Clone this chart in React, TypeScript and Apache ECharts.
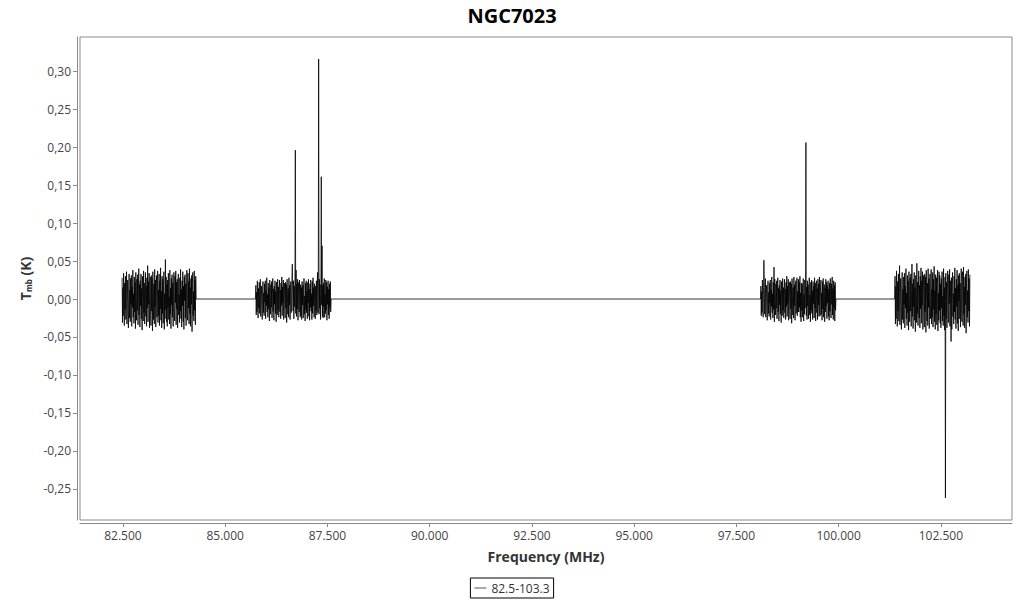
import React, { useEffect, useRef } from "react";
import * as echarts from "echarts";

// Spectrum blocks: [start MHz, end MHz] and channel values in mK
const blockRanges: [number, number][] = [
  [82480, 84280],
  [85750, 87580],
  [98100, 99925],
  [101380, 103210],
];

const block1mK = [
  28, -31, 15, -22, 34, -8, -35, 21, -14, 30, -27, 9, 36, -33, 4, 25, -19, -38, 18, 33,
  -25, 12, -30, 27, -6, 31, -36, 16, -11, 38, -24, 7, -32, 29, -17, 22, -39, 35, -3, -28,
  26, -15, 32, -34, 11, 40, -21, 19, -37, 24, -9, 33, -26, 14, -41, 30, 2, -29, 37, -18,
  21, -33, 8, 35, -23, 17, -36, 28, -12, 44, -30, 23, -7, 34, -38, 13, 29, -20, -35, 31,
  -16, 27, -42, 36, 5, -27, 20, -33, 39, -10, 25, -37, 16, 31, -24, -4, 37, -31, 12, -22,
  33, -35, 24, -13, 41, -28, 10, -38, 30, -19, 26, -32, 18, 36, -40, 7, -26, 52, -14, 29,
  -30, 19, -36, 25, -11, 34, -27, 3, -33, 38, -20, 14, -39, 27, -8, 32, -24, 21, -36, 11,
  35, -17, -29, 30, -5, 37, -34, 22, -13, 26, -38, 18, 33, -21, 6, -31, 28, -16, 39, -26,
  13, -37, 24, -9, 36, -30, 17, -40, 29, -2, 32, -25, 20, -35, 9, 38, -18, -28, 34, -12,
  23, -33, 40, -19, 15, -36, 27, -7, 31, -43, 19, 35, -22, 10, -29, 37, -15, 25, -34, 30,
];

const block2mK = [
  18, -21, 9, -17, 24, -6, -25, 14, -12, 22, -19, 5, 26, -23, 3, 17, -15, -27, 12, 23,
  -18, 8, -22, 20, -4, 24, -26, 11, -9, 28, -17, 6, -24, 21, -13, 15, -29, 25, -2, -20,
  19, -11, 23, -25, 7, 27, -16, 13, -28, 17, -7, 24, -19, 10, -30, 22, 1, -21, 26, -14,
  16, -24, 6, 25, -17, 12, -26, 21, -9, 29, -22, 16, -5, 25, -27, 9, 21, -15, -25, 22,
  -12, 19, -31, 26, 4, -20, 14, -24, 28, -8, 18, -27, 11, 23, -18, -3, 27, 46, 9, -16,
  24, -26, 17, -10, 28, 196, -19, 38, -23, 20, -13, 26, -28, 8, 22, -17, 25, -6, -24, 19,
  -21, 15, -27, 23, -8, 18, -25, 12, 27, -20, 4, -29, 21, -14, 24, -18, 10, -26, 22, -5,
  26, -23, 13, -28, 20, -11, 25, -16, 7, -27, 23, -19, 28, -9, 15, -24, 20, -3, -26, 17,
  -15, 24, -21, 10, 35, -18, 12, 316, -20, 26, -12, 19, -27, 14, 161, -8, 70, -23, 18, -25,
  21, -10, 27, -24, 6, -19, 25, -14, 22, -28, 16, -7, 24, -21, 13, -26, 20, -11, 23, -17,
];

const block3mK = [
  17, -22, 10, -18, 25, -6, -24, 15, 51, 23, -20, 6, 27, -24, 4, 18, -16, -28, 13, 24,
  -19, 9, -23, 21, -5, 25, -27, 12, -10, 29, -18, 7, -25, 22, -14, 42, -30, 26, -3, -21,
  20, -12, 24, -26, 8, 28, -17, 14, -29, 18, -8, 25, -20, 11, -31, 23, 2, -22, 27, -15,
  15, -25, 7, 26, -18, 13, -27, 22, -10, 30, -23, 17, -6, 26, -28, 10, 22, -16, -26, 23,
  -13, 20, -32, 27, 5, -21, 15, -25, 29, -9, 19, -28, 12, 24, -19, -4, 28, -22, 10, -17,
  26, -17, 22, -11, 30, -24, 8, -30, 21, -15, 20, -24, 14, 27, -29, 6, -20, 25, -12, 18,
  206, -22, 16, -27, 24, -9, 19, -26, 13, 28, -21, 5, -30, 22, -15, 25, -19, 11, -27, 23,
  -6, 17, -25, 28, -12, 21, -29, 9, 24, -18, 14, -27, 26, -8, 20, -23, 29, -14, -22, 16,
  25, -20, 8, -28, 23, -13, 27, -24, 11, 19, -30, 15, -17, 26, -9, 22, -26, 18, -5, 24,
  -23, 13, -28, 21, -16, 27, -11, -25, 20, -7, 29, -21, 14, -27, 24, -12, 18, -29, 22, -15,
];

const block4mK = [
  30, -33, 17, -26, 37, -9, -36, 23, -16, 33, -29, 10, 44, -34, 5, 27, -21, -40, 19, 35,
  -27, 13, -32, 29, -7, 34, -38, 17, -12, 40, -26, 8, -35, 31, -18, 24, -41, 36, -4, -30,
  28, -16, 33, -36, 12, 46, -23, 20, -39, 26, -10, 35, -28, 15, -43, 31, 3, -31, 47, -19,
  22, -35, 9, 37, -25, 18, -38, 30, -13, 41, -32, 24, -8, 36, -40, 14, 31, -22, -37, 33,
  -17, 29, -44, 38, 6, -29, 21, -35, 40, -11, 27, -39, 17, 33, -26, -5, 39, -33, 13, -24,
  35, -37, 26, -14, 43, -30, 11, -40, 32, -20, 28, -34, 19, 38, -42, 8, -28, 36, -15, 31,
  -32, 20, -38, 27, -12, 36, -29, 4, -35, 40, -22, 15, -41, 29, -262, 34, -26, 22, -38, 12,
  37, -18, -31, 32, -6, 39, -36, 24, -14, -56, 28, -40, 19, 35, -23, 7, -33, 30, -17, 41,
  -27, 14, -39, 26, -10, 38, -32, 18, -42, 31, -3, 34, -26, 21, -37, 10, 40, -19, -30, 36,
  24, -35, 42, -20, 16, -38, 29, -8, 33, -45, 20, 37, -24, 11, -31, 39, -16, 27, -36, 32,
];

const blocksmK = [block1mK, block2mK, block3mK, block4mK];

// zero-filled gaps between observed blocks (MHz)
const gapEdges: [number, number][] = [
  [84290, 85740],
  [87590, 98090],
  [99935, 101370],
];

const xTicks = [82500, 85000, 87500, 90000, 92500, 95000, 97500, 100000, 102500];
const yTicks = [-0.25, -0.2, -0.15, -0.1, -0.05, 0, 0.05, 0.1, 0.15, 0.2, 0.25, 0.3];
const seriesName = "82.5-103.3";

function buildData(): [number, number][] {
  const out: [number, number][] = [];
  blocksmK.forEach((vals, b) => {
    const [s, e] = blockRanges[b];
    const step = (e - s) / (vals.length - 1);
    vals.forEach((v, i) => out.push([s + i * step, v / 1000]));
    if (b < gapEdges.length) {
      out.push([gapEdges[b][0], 0]);
      out.push([gapEdges[b][1], 0]);
    }
  });
  return out;
}

const FONT = "'Open Sans', 'Noto Sans', sans-serif";

export default function App() {
  const ref = useRef<HTMLDivElement>(null);
  useEffect(() => {
    if (!ref.current) return;
    const chart = echarts.init(ref.current, undefined, { renderer: "svg" });
    chart.setOption({
      animation: false,
      backgroundColor: "#fff",
      textStyle: { fontFamily: FONT },
      title: {
        text: "NGC7023",
        left: "center",
        top: 0,
        textStyle: { fontSize: 20, fontWeight: "bold", color: "#000", fontFamily: FONT },
      },
      legend: {
        bottom: 2,
        left: "center",
        data: [seriesName],
        icon: "rect",
        itemWidth: 12,
        itemHeight: 1,
        itemGap: 4,
        itemStyle: { color: "#555" },
        borderColor: "#000",
        borderWidth: 1,
        borderRadius: 0,
        padding: [4, 4, 4, 4],
        textStyle: { fontSize: 12, color: "#333", fontFamily: FONT },
      },
      grid: {
        left: 80,
        right: 12,
        top: 37,
        bottom: 80,
        show: true,
        borderColor: "#8a8a8a",
        borderWidth: 1,
        containLabel: false,
      },
      xAxis: {
        type: "value",
        min: 81450,
        max: 104240,
        offset: 3,
        name: "Frequency (MHz)",
        nameLocation: "middle",
        nameGap: 26,
        nameTextStyle: { fontSize: 14, fontWeight: "bold", color: "#333", fontFamily: FONT },
        axisLine: { show: true, onZero: false, lineStyle: { color: "#8a8a8a" } },
        axisTick: { show: true, length: 4, lineStyle: { color: "#8a8a8a" }, customValues: xTicks },
        axisLabel: {
          fontSize: 12,
          color: "#444",
          margin: 6,
          customValues: xTicks,
          formatter: (v: number) => {
            const s = Math.round(v).toString();
            return s.slice(0, s.length - 3) + "." + s.slice(s.length - 3);
          },
        },
        splitLine: { show: false },
      },
      yAxis: {
        type: "value",
        min: -0.291,
        max: 0.345,
        offset: 3,
        name: "{t|T}{s|mb}{t| (K)}",
        nameLocation: "middle",
        nameGap: 44,
        nameRotate: 90,
        nameTextStyle: {
          rich: {
            t: { fontSize: 14, fontWeight: "bold", color: "#333", fontFamily: FONT },
            s: { fontSize: 8, fontWeight: "bold", color: "#333", fontFamily: FONT, verticalAlign: "bottom", padding: [6, 0, 0, 0] },
          },
        },
        axisLine: { show: true, onZero: false, lineStyle: { color: "#8a8a8a" } },
        axisTick: { show: true, length: 4, lineStyle: { color: "#8a8a8a" }, customValues: yTicks },
        axisLabel: {
          fontSize: 12,
          color: "#444",
          margin: 6,
          customValues: yTicks,
          formatter: (v: number) => v.toFixed(2).replace(".", ","),
        },
        splitLine: { show: false },
      },
      series: [
        {
          name: seriesName,
          type: "line",
          data: buildData(),
          showSymbol: false,
          symbol: "none",
          lineStyle: { color: "#000", width: 0.8 },
          itemStyle: { color: "#000" },
        },
      ],
    });
    return () => chart.dispose();
  }, []);
  return (
    <div
      ref={ref}
      style={{ position: "fixed", left: 0, top: 0, width: 1024, height: 600 }}
    />
  );
}
